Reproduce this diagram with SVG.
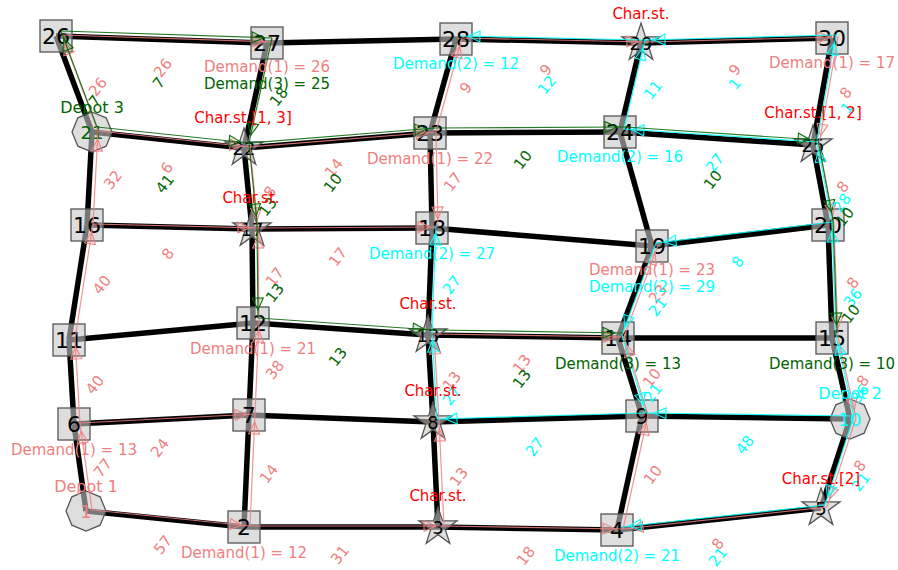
<svg xmlns="http://www.w3.org/2000/svg" width="898" height="570" viewBox="0 0 898 570">
<style>
text { font-family: "DejaVu Sans", "Liberation Sans", sans-serif; }
#edges line { stroke:#000; stroke-width:5.5; }
.rt line { stroke-width:1.2; stroke-opacity:0.85; }
#rS line { stroke:#f08080; marker-end:url(#aS); }
#rC line { stroke:#00ffff; marker-end:url(#aC); }
#rG line { stroke:#006400; marker-end:url(#aG); }
.sq, .st, .oc { fill:#c8c8c8; fill-opacity:0.6; stroke:#555; stroke-width:1.3; }
.nl { font-size:22px; text-anchor:middle; dominant-baseline:central; fill:#000; }
.ns { font-size:18px; text-anchor:middle; dominant-baseline:central; fill:#000; }
.lb { font-size:15px; text-anchor:middle; dominant-baseline:central; }
.dp { font-size:16px; text-anchor:middle; dominant-baseline:central; }
.S { fill:#f08080; } .C { fill:#00ffff; } .G { fill:#006400; } .R { fill:#ff0000; }
</style>
<defs>
<marker id="aS" markerUnits="userSpaceOnUse" markerWidth="30" markerHeight="16" viewBox="-24 -8 30 16" refX="0" refY="0" orient="auto"><path d="M-8,0 L-20,-5.5 L-20,5.5 Z" fill="#f08080" fill-opacity="0.15" stroke="#f08080" stroke-width="1"/></marker>
<marker id="aC" markerUnits="userSpaceOnUse" markerWidth="30" markerHeight="16" viewBox="-24 -8 30 16" refX="0" refY="0" orient="auto"><path d="M-8,0 L-20,-5.5 L-20,5.5 Z" fill="#00ffff" fill-opacity="0.15" stroke="#00ffff" stroke-width="1"/></marker>
<marker id="aG" markerUnits="userSpaceOnUse" markerWidth="30" markerHeight="16" viewBox="-24 -8 30 16" refX="0" refY="0" orient="auto"><path d="M-8,0 L-20,-5.5 L-20,5.5 Z" fill="#006400" fill-opacity="0.15" stroke="#006400" stroke-width="1"/></marker>
<polygon id="star" points="0,-20 4.47,-6.15 19.02,-6.18 7.23,2.35 11.76,16.18 0,7.6 -11.76,16.18 -7.23,2.35 -19.02,-6.18 -4.47,-6.15"/>
<polygon id="oct" points="0,-20 14.14,-14.14 20,0 14.14,14.14 0,20 -14.14,14.14 -20,0 -14.14,-14.14"/>
<rect id="sqr" x="-16" y="-16" width="32" height="32"/>
</defs>
<rect width="898" height="570" fill="#fff"/>

<g id="edges">
<line x1="56" y1="36" x2="267" y2="43"/>
<line x1="267" y1="43" x2="456" y2="39"/>
<line x1="456" y1="39" x2="641" y2="43"/>
<line x1="641" y1="43" x2="832" y2="38"/>
<line x1="56" y1="36" x2="92" y2="132"/>
<line x1="267" y1="43" x2="244" y2="148"/>
<line x1="456" y1="39" x2="430" y2="133"/>
<line x1="641" y1="43" x2="620" y2="132"/>
<line x1="832" y1="38" x2="813" y2="145"/>
<line x1="92" y1="132" x2="244" y2="148"/>
<line x1="244" y1="148" x2="430" y2="133"/>
<line x1="430" y1="133" x2="620" y2="132"/>
<line x1="620" y1="132" x2="813" y2="145"/>
<line x1="92" y1="132" x2="87" y2="225"/>
<line x1="244" y1="148" x2="252" y2="229"/>
<line x1="430" y1="133" x2="432" y2="228"/>
<line x1="620" y1="132" x2="652" y2="246"/>
<line x1="813" y1="145" x2="828" y2="225"/>
<line x1="87" y1="225" x2="252" y2="229"/>
<line x1="252" y1="229" x2="432" y2="228"/>
<line x1="432" y1="228" x2="652" y2="246"/>
<line x1="652" y1="246" x2="828" y2="225"/>
<line x1="87" y1="225" x2="69" y2="340"/>
<line x1="252" y1="229" x2="253" y2="323"/>
<line x1="432" y1="228" x2="428" y2="335"/>
<line x1="652" y1="246" x2="618" y2="338"/>
<line x1="828" y1="225" x2="832" y2="338"/>
<line x1="69" y1="340" x2="253" y2="323"/>
<line x1="253" y1="323" x2="428" y2="335"/>
<line x1="428" y1="335" x2="618" y2="338"/>
<line x1="618" y1="338" x2="832" y2="338"/>
<line x1="69" y1="340" x2="74" y2="424"/>
<line x1="253" y1="323" x2="249" y2="415"/>
<line x1="428" y1="335" x2="433" y2="422"/>
<line x1="618" y1="338" x2="642" y2="416"/>
<line x1="832" y1="338" x2="850" y2="419"/>
<line x1="74" y1="424" x2="249" y2="415"/>
<line x1="249" y1="415" x2="433" y2="422"/>
<line x1="433" y1="422" x2="642" y2="416"/>
<line x1="642" y1="416" x2="850" y2="419"/>
<line x1="74" y1="424" x2="86" y2="511"/>
<line x1="249" y1="415" x2="244" y2="527"/>
<line x1="433" y1="422" x2="438" y2="527"/>
<line x1="642" y1="416" x2="617" y2="530"/>
<line x1="850" y1="419" x2="821" y2="508"/>
<line x1="86" y1="511" x2="244" y2="527"/>
<line x1="244" y1="527" x2="438" y2="527"/>
<line x1="438" y1="527" x2="617" y2="530"/>
<line x1="617" y1="530" x2="821" y2="508"/>
</g>

<g id="nodes">
<g id="n1"><use href="#oct" x="86" y="511" class="oc"/><text class="ns S" x="86" y="511">1</text></g>
<g id="n2"><use href="#sqr" x="244" y="527" class="sq"/><text class="nl" x="244" y="527">2</text></g>
<g id="n3"><use href="#star" x="438" y="527" class="st"/><text class="ns" x="438" y="527">3</text></g>
<g id="n4"><use href="#sqr" x="617" y="530" class="sq"/><text class="nl" x="617" y="530">4</text></g>
<g id="n5"><use href="#star" x="821" y="508" class="st"/><text class="ns" x="821" y="508">5</text></g>
<g id="n6"><use href="#sqr" x="74" y="424" class="sq"/><text class="nl" x="74" y="424">6</text></g>
<g id="n7"><use href="#sqr" x="249" y="415" class="sq"/><text class="nl" x="249" y="415">7</text></g>
<g id="n8"><use href="#star" x="433" y="422" class="st"/><text class="ns" x="433" y="422">8</text></g>
<g id="n9"><use href="#sqr" x="642" y="416" class="sq"/><text class="nl" x="642" y="416">9</text></g>
<g id="n10"><use href="#oct" x="850" y="419" class="oc"/><text class="ns C" x="850" y="419">10</text></g>
<g id="n11"><use href="#sqr" x="69" y="340" class="sq"/><text class="nl" x="69" y="340">11</text></g>
<g id="n12"><use href="#sqr" x="253" y="323" class="sq"/><text class="nl" x="253" y="323">12</text></g>
<g id="n13"><use href="#star" x="428" y="335" class="st"/><text class="ns" x="428" y="335">13</text></g>
<g id="n14"><use href="#sqr" x="618" y="338" class="sq"/><text class="nl" x="618" y="338">14</text></g>
<g id="n15"><use href="#sqr" x="832" y="338" class="sq"/><text class="nl" x="832" y="338">15</text></g>
<g id="n16"><use href="#sqr" x="87" y="225" class="sq"/><text class="nl" x="87" y="225">16</text></g>
<g id="n17"><use href="#star" x="252" y="229" class="st"/><text class="ns" x="252" y="229">17</text></g>
<g id="n18"><use href="#sqr" x="432" y="228" class="sq"/><text class="nl" x="432" y="228">18</text></g>
<g id="n19"><use href="#sqr" x="652" y="246" class="sq"/><text class="nl" x="652" y="246">19</text></g>
<g id="n20"><use href="#sqr" x="828" y="225" class="sq"/><text class="nl" x="828" y="225">20</text></g>
<g id="n21"><use href="#oct" x="92" y="132" class="oc"/><text class="ns G" x="92" y="132">21</text></g>
<g id="n22"><use href="#star" x="244" y="148" class="st"/><text class="ns" x="244" y="148">22</text></g>
<g id="n23"><use href="#sqr" x="430" y="133" class="sq"/><text class="nl" x="430" y="133">23</text></g>
<g id="n24"><use href="#sqr" x="620" y="132" class="sq"/><text class="nl" x="620" y="132">24</text></g>
<g id="n25"><use href="#star" x="813" y="145" class="st"/><text class="ns" x="813" y="145">25</text></g>
<g id="n26"><use href="#sqr" x="56" y="36" class="sq"/><text class="nl" x="56" y="36">26</text></g>
<g id="n27"><use href="#sqr" x="267" y="43" class="sq"/><text class="nl" x="267" y="43">27</text></g>
<g id="n28"><use href="#sqr" x="456" y="39" class="sq"/><text class="nl" x="456" y="39">28</text></g>
<g id="n29"><use href="#star" x="641" y="43" class="st"/><text class="ns" x="641" y="43">29</text></g>
<g id="n30"><use href="#sqr" x="832" y="38" class="sq"/><text class="nl" x="832" y="38">30</text></g>
</g>

<g id="routes">
<g id="rS" class="rt" transform="translate(6,-1)">
<line x1="86" y1="511" x2="74" y2="424"/>
<line x1="74" y1="424" x2="69" y2="340"/>
<line x1="69" y1="340" x2="87" y2="225"/>
<line x1="87" y1="225" x2="92" y2="132"/>
<line x1="92" y1="132" x2="56" y2="36"/>
<line x1="56" y1="36" x2="267" y2="43"/>
<line x1="92" y1="132" x2="244" y2="148"/>
<line x1="244" y1="148" x2="430" y2="133"/>
<line x1="430" y1="133" x2="456" y2="39"/>
<line x1="456" y1="39" x2="641" y2="43"/>
<line x1="641" y1="43" x2="832" y2="38"/>
<line x1="832" y1="38" x2="813" y2="145"/>
<line x1="813" y1="145" x2="828" y2="225"/>
<line x1="828" y1="225" x2="832" y2="338"/>
<line x1="832" y1="338" x2="850" y2="419"/>
<line x1="850" y1="419" x2="821" y2="508"/>
<line x1="821" y1="508" x2="617" y2="530"/>
<line x1="617" y1="530" x2="642" y2="416"/>
<line x1="642" y1="416" x2="618" y2="338"/>
<line x1="618" y1="338" x2="652" y2="246"/>
<line x1="86" y1="511" x2="244" y2="527"/>
<line x1="244" y1="527" x2="249" y2="415"/>
<line x1="74" y1="424" x2="249" y2="415"/>
<line x1="249" y1="415" x2="253" y2="323"/>
<line x1="253" y1="323" x2="252" y2="229"/>
<line x1="244" y1="148" x2="252" y2="229"/>
<line x1="87" y1="225" x2="252" y2="229"/>
<line x1="252" y1="229" x2="432" y2="228"/>
<line x1="430" y1="133" x2="432" y2="228"/>
<line x1="244" y1="527" x2="438" y2="527"/>
<line x1="438" y1="527" x2="617" y2="530"/>
<line x1="438" y1="527" x2="433" y2="422"/>
<line x1="433" y1="422" x2="428" y2="335"/>
<line x1="428" y1="335" x2="618" y2="338"/>
</g>
<g id="rC" class="rt" transform="translate(4,-3)">
<line x1="850" y1="419" x2="832" y2="338"/>
<line x1="832" y1="338" x2="828" y2="225"/>
<line x1="828" y1="225" x2="813" y2="145"/>
<line x1="813" y1="145" x2="832" y2="38"/>
<line x1="832" y1="38" x2="641" y2="43"/>
<line x1="641" y1="43" x2="456" y2="39"/>
<line x1="813" y1="145" x2="620" y2="132"/>
<line x1="620" y1="132" x2="641" y2="43"/>
<line x1="828" y1="225" x2="652" y2="246"/>
<line x1="652" y1="246" x2="618" y2="338"/>
<line x1="618" y1="338" x2="642" y2="416"/>
<line x1="850" y1="419" x2="642" y2="416"/>
<line x1="642" y1="416" x2="433" y2="422"/>
<line x1="433" y1="422" x2="428" y2="335"/>
<line x1="428" y1="335" x2="432" y2="228"/>
<line x1="850" y1="419" x2="821" y2="508"/>
<line x1="821" y1="508" x2="617" y2="530"/>
</g>
<g id="rG" class="rt" transform="translate(5,-5)">
<line x1="92" y1="132" x2="56" y2="36"/>
<line x1="56" y1="36" x2="267" y2="43"/>
<line x1="267" y1="43" x2="244" y2="148"/>
<line x1="244" y1="148" x2="252" y2="229"/>
<line x1="252" y1="229" x2="253" y2="323"/>
<line x1="253" y1="323" x2="428" y2="335"/>
<line x1="428" y1="335" x2="618" y2="338"/>
<line x1="92" y1="132" x2="244" y2="148"/>
<line x1="244" y1="148" x2="430" y2="133"/>
<line x1="430" y1="133" x2="620" y2="132"/>
<line x1="620" y1="132" x2="813" y2="145"/>
<line x1="813" y1="145" x2="828" y2="225"/>
<line x1="828" y1="225" x2="832" y2="338"/>
</g>
</g>

<g id="edge-labels">
<text class="lb S" transform="translate(163,68) rotate(-52)">26</text>
<text class="lb G" transform="translate(159,83) rotate(-52)">7</text>
<text class="lb S" transform="translate(98,87) rotate(-52)">26</text>
<text class="lb G" transform="translate(95,101) rotate(-52)">7</text>
<text class="lb G" transform="translate(279,97) rotate(-52)">18</text>
<text class="lb S" transform="translate(113,180) rotate(-52)">32</text>
<text class="lb S" transform="translate(167,168) rotate(-52)">6</text>
<text class="lb G" transform="translate(165,184) rotate(-52)">41</text>
<text class="lb S" transform="translate(334,168) rotate(-52)">14</text>
<text class="lb G" transform="translate(333,183) rotate(-52)">10</text>
<text class="lb S" transform="translate(270,192) rotate(-52)">8</text>
<text class="lb G" transform="translate(268,207) rotate(-52)">13</text>
<text class="lb S" transform="translate(466,88) rotate(-52)">9</text>
<text class="lb S" transform="translate(546,70) rotate(-52)">9</text>
<text class="lb C" transform="translate(547,85) rotate(-52)">12</text>
<text class="lb S" transform="translate(453,182) rotate(-52)">17</text>
<text class="lb G" transform="translate(523,160) rotate(-52)">10</text>
<text class="lb S" transform="translate(735,70) rotate(-52)">9</text>
<text class="lb C" transform="translate(735,84) rotate(-52)">1</text>
<text class="lb C" transform="translate(653,90) rotate(-52)">11</text>
<text class="lb S" transform="translate(846,93) rotate(-52)">8</text>
<text class="lb C" transform="translate(847,108) rotate(-52)">1</text>
<text class="lb C" transform="translate(715,163) rotate(-52)">27</text>
<text class="lb G" transform="translate(713,180) rotate(-52)">10</text>
<text class="lb S" transform="translate(843,187) rotate(-52)">8</text>
<text class="lb C" transform="translate(842,203) rotate(-52)">28</text>
<text class="lb G" transform="translate(845,217) rotate(-52)">10</text>
<text class="lb S" transform="translate(853,283) rotate(-52)">8</text>
<text class="lb C" transform="translate(853,298) rotate(-52)">36</text>
<text class="lb G" transform="translate(851,314) rotate(-52)">10</text>
<text class="lb S" transform="translate(168,254) rotate(-52)">8</text>
<text class="lb S" transform="translate(102,285) rotate(-52)">40</text>
<text class="lb S" transform="translate(275,277) rotate(-52)">17</text>
<text class="lb G" transform="translate(275,293) rotate(-52)">13</text>
<text class="lb S" transform="translate(275,370) rotate(-52)">38</text>
<text class="lb S" transform="translate(338,257) rotate(-52)">17</text>
<text class="lb C" transform="translate(452,285) rotate(-52)">27</text>
<text class="lb G" transform="translate(338,357) rotate(-52)">13</text>
<text class="lb S" transform="translate(522,364) rotate(-52)">13</text>
<text class="lb G" transform="translate(522,379) rotate(-52)">13</text>
<text class="lb S" transform="translate(452,381) rotate(-52)">13</text>
<text class="lb C" transform="translate(452,396) rotate(-52)">27</text>
<text class="lb S" transform="translate(658,294) rotate(-52)">23</text>
<text class="lb C" transform="translate(658,307) rotate(-52)">21</text>
<text class="lb S" transform="translate(652,378) rotate(-52)">10</text>
<text class="lb C" transform="translate(653,393) rotate(-52)">21</text>
<text class="lb C" transform="translate(738,262) rotate(-52)">8</text>
<text class="lb S" transform="translate(95,385) rotate(-52)">40</text>
<text class="lb S" transform="translate(160,448) rotate(-52)">24</text>
<text class="lb S" transform="translate(103,468) rotate(-52)">77</text>
<text class="lb S" transform="translate(269,474) rotate(-52)">14</text>
<text class="lb S" transform="translate(163,545) rotate(-52)">57</text>
<text class="lb S" transform="translate(459,477) rotate(-52)">13</text>
<text class="lb C" transform="translate(535,447) rotate(-52)">27</text>
<text class="lb S" transform="translate(340,555) rotate(-52)">31</text>
<text class="lb S" transform="translate(526,556) rotate(-52)">18</text>
<text class="lb S" transform="translate(653,475) rotate(-52)">10</text>
<text class="lb C" transform="translate(745,445) rotate(-52)">48</text>
<text class="lb S" transform="translate(860,466) rotate(-52)">8</text>
<text class="lb C" transform="translate(861,482) rotate(-52)">21</text>
<text class="lb S" transform="translate(718,544) rotate(-52)">8</text>
<text class="lb C" transform="translate(718,557) rotate(-52)">21</text>
<text class="lb S" transform="translate(863,381) rotate(-52)">8</text>
<text class="lb C" transform="translate(860,394) rotate(-52)">36</text>
</g>

<g id="node-notes">
<text class="lb S" x="267" y="67">Demand(1) = 26</text>
<text class="lb G" x="267" y="84">Demand(3) = 25</text>
<text class="lb C" x="456" y="64">Demand(2) = 12</text>
<text class="lb R" x="641" y="14">Char.st.</text>
<text class="lb S" x="832" y="63">Demand(1) = 17</text>
<text class="dp G" x="92" y="107">Depot 3</text>
<text class="lb R" x="243" y="118">Char.st.[1, 3]</text>
<text class="lb S" x="430" y="159">Demand(1) = 22</text>
<text class="lb C" x="620" y="157">Demand(2) = 16</text>
<text class="lb R" x="813" y="113">Char.st.[1, 2]</text>
<text class="lb R" x="251" y="198">Char.st.</text>
<text class="lb C" x="432" y="254">Demand(2) = 27</text>
<text class="lb S" x="652" y="270">Demand(1) = 23</text>
<text class="lb C" x="652" y="287">Demand(2) = 29</text>
<text class="lb R" x="428" y="304">Char.st.</text>
<text class="lb S" x="253" y="349">Demand(1) = 21</text>
<text class="lb G" x="618" y="364">Demand(3) = 13</text>
<text class="lb G" x="832" y="364">Demand(3) = 10</text>
<text class="lb R" x="433" y="391">Char.st.</text>
<text class="dp C" x="850" y="393">Depot 2</text>
<text class="lb S" x="74" y="450">Demand(1) = 13</text>
<text class="dp S" x="86" y="486">Depot 1</text>
<text class="lb R" x="821" y="479">Char.st.[2]</text>
<text class="lb R" x="438" y="496">Char.st.</text>
<text class="lb S" x="244" y="553">Demand(1) = 12</text>
<text class="lb C" x="617" y="556">Demand(2) = 21</text>
</g>
</svg>
